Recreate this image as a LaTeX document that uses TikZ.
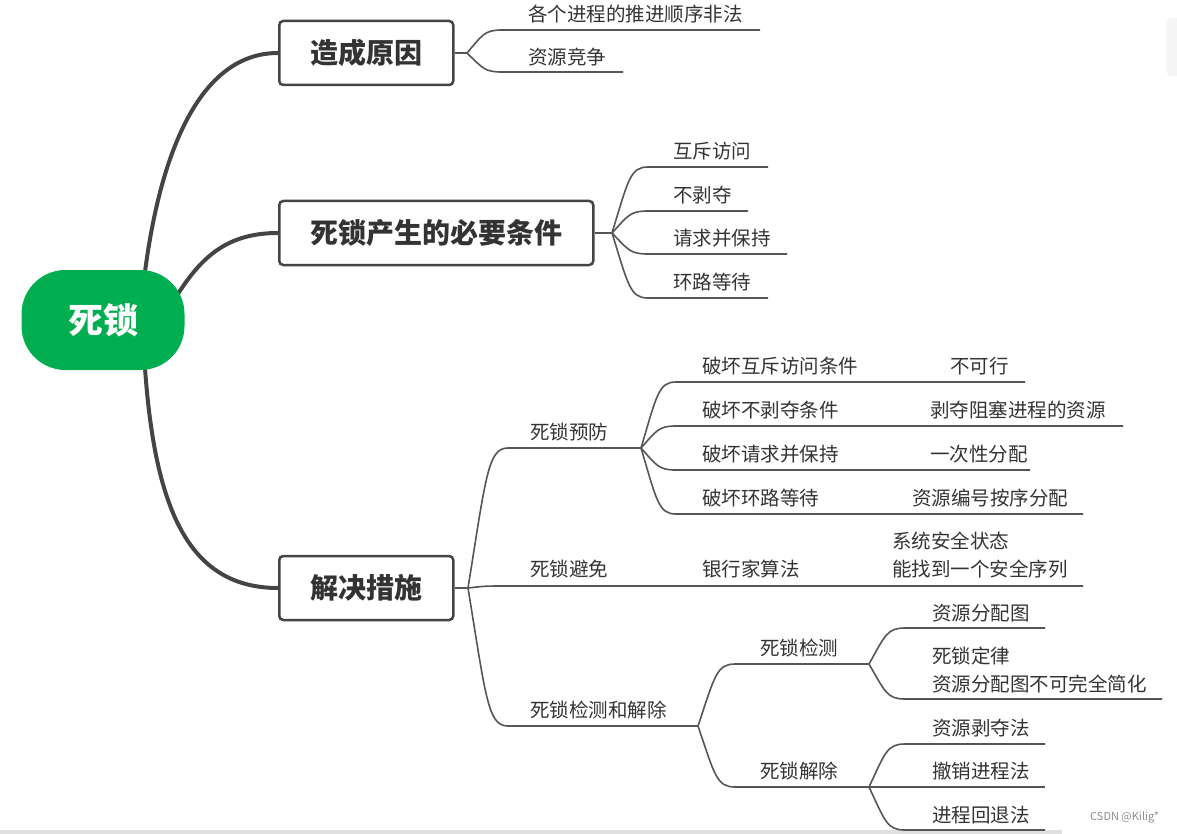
\documentclass[tikz,border=0pt]{standalone}
\usepackage{fontspec}
\setmainfont{Noto Sans CJK SC}
\usetikzlibrary{calc,backgrounds}
\definecolor{mindgreen}{HTML}{00AE4F}
\definecolor{trunkgray}{HTML}{444444}
\definecolor{twiggray}{HTML}{555555}
\definecolor{ink}{HTML}{333333}
\newcommand\fork[3]{\draw[twig] let \p1=(#1), \p2=(#2) in (\p1)
  .. controls ({\x1+0.45*(\x2-\x1)},{\y1+0.8*(\y2-\y1)}) and ({\x1+0.5*(\x2-\x1)},\y2) .. (\p2) -- (#3);}
\begin{document}
\begin{tikzpicture}[x=1pt,y=-1pt,
  root/.style={fill=mindgreen,rounded corners=44pt,minimum width=163pt,minimum height=100pt,
    inner sep=0pt,text=white,font=\bfseries\fontsize{35}{40}\selectfont},
  topic/.style={draw=trunkgray,fill=white,line width=2.5pt,rounded corners=4pt,anchor=west,
    minimum height=64pt,inner xsep=31pt,inner ysep=0pt,text=ink,font=\bfseries\fontsize{28}{32}\selectfont},
  leaf/.style={anchor=west,inner sep=0pt,align=left,text=ink,font=\fontsize{19.5}{27.5}\selectfont},
  trunk/.style={draw=trunkgray,line width=4pt},
  twig/.style={draw=twiggray,line width=1.6pt}]
 \useasboundingbox (0,0) rectangle (1177,834);
 \fill[black!12] (0,830) rectangle (1062,834);
 \fill[black!4,rounded corners=6pt] (1166,18) rectangle (1190,76);
 \node[root] (r) at (103,320) {死锁};
 \node[topic] (b1) at (278,53) {造成原因};
 \node[topic] (b2) at (278,233) {死锁产生的必要条件};
 \node[topic] (b3) at (278,588) {解决措施};
 \begin{scope}[on background layer]
  \draw[trunk] ([shift={(42,2)}]r.north) .. controls +(15,-115) and +(-80,0) .. (b1.west);
  \draw[trunk] ([shift={(-8,-24)}]r.east) .. controls +(25,-40) and +(-50,0) .. (b2.west);
  \draw[trunk] ([shift={(42,-2)}]r.south) .. controls +(10,140) and +(-90,0) .. (b3.west);
 \end{scope}
 % causes
 \coordinate (f1) at (467,53);
 \coordinate (a1) at (502,30); \coordinate (a1e) at (760,30);
 \coordinate (a2) at (502,72); \coordinate (a2e) at (623,72);
 \draw[twig] (b1.east) -- (f1);
 \fork{f1}{a1}{a1e} \fork{f1}{a2}{a2e}
 \node[leaf] (a1t) at (528,14) {各个进程的推进顺序非法};
 \node[leaf] (a2t) at (528,57) {资源竞争};
 % conditions
 \coordinate (f2) at (612,233);
 \coordinate (c1) at (648,167); \coordinate (c1e) at (768,167);
 \coordinate (c2) at (648,211); \coordinate (c2e) at (748,211);
 \coordinate (c3) at (648,254); \coordinate (c3e) at (787,254);
 \coordinate (c4) at (648,298); \coordinate (c4e) at (768,298);
 \draw[twig] (b2.east) -- (f2);
 \fork{f2}{c1}{c1e} \fork{f2}{c2}{c2e} \fork{f2}{c3}{c3e} \fork{f2}{c4}{c4e}
 \node[leaf] (c1t) at (673,151) {互斥访问};
 \node[leaf] (c2t) at (673,195) {不剥夺};
 \node[leaf] (c3t) at (673,238) {请求并保持};
 \node[leaf] (c4t) at (673,282) {环路等待};
 % measures
 \coordinate (f3) at (468,588);
 \coordinate (s1) at (508,448); \coordinate (p1) at (641,448);
 \coordinate (s2) at (500,586); \coordinate (s2e) at (1083,586);
 \coordinate (s3) at (508,726); \coordinate (p3) at (698,726);
 \draw[twig] (b3.east) -- (f3);
 \fork{f3}{s1}{p1} \fork{f3}{s2}{s2e} \fork{f3}{s3}{p3}
 \node[leaf] (s1t) at (530,432) {死锁预防};
 \node[leaf] (s2t) at (530,569) {死锁避免};
 \node[leaf] (s3t) at (530,710) {死锁检测和解除};
 \coordinate (e1) at (676,382); \coordinate (e1e) at (1025,382);
 \coordinate (e2) at (676,426); \coordinate (e2e) at (1123,426);
 \coordinate (e3) at (676,470); \coordinate (e3e) at (1030,470);
 \coordinate (e4) at (676,514); \coordinate (e4e) at (1083,514);
 \fork{p1}{e1}{e1e} \fork{p1}{e2}{e2e} \fork{p1}{e3}{e3e} \fork{p1}{e4}{e4e}
 \node[leaf] (e1t) at (702,366) {破坏互斥访问条件}; \node[leaf] (e1r) at (950,366) {不可行};
 \node[leaf] (e2t) at (702,410) {破坏不剥夺条件}; \node[leaf] (e2r) at (930,410) {剥夺阻塞进程的资源};
 \node[leaf] (e3t) at (702,454) {破坏请求并保持}; \node[leaf] (e3r) at (930,454) {一次性分配};
 \node[leaf] (e4t) at (702,498) {破坏环路等待}; \node[leaf] (e4r) at (912,498) {资源编号按序分配};
 \node[leaf] (bank) at (702,569) {银行家算法};
 \node[leaf] (safe) at (892,555) {系统安全状态\\能找到一个安全序列};
 \coordinate (d1) at (735,664); \coordinate (p4) at (869,664);
 \coordinate (d2) at (735,787); \coordinate (p5) at (869,787);
 \fork{p3}{d1}{p4} \fork{p3}{d2}{p5}
 \node[leaf] (d1t) at (760,648) {死锁检测};
 \node[leaf] (d2t) at (760,771) {死锁解除};
 \coordinate (g1) at (905,628); \coordinate (g1e) at (1045,628);
 \coordinate (g2) at (905,699); \coordinate (g2e) at (1162,699);
 \fork{p4}{g1}{g1e} \fork{p4}{g2}{g2e}
 \node[leaf] (g1t) at (932,613) {资源分配图};
 \node[leaf] (g2t) at (932,670) {死锁定律\\资源分配图不可完全简化};
 \coordinate (h1) at (905,744); \coordinate (h1e) at (1045,744);
 \coordinate (h2e) at (1045,787);
 \coordinate (h3) at (905,830); \coordinate (h3e) at (1045,830);
 \fork{p5}{h1}{h1e} \draw[twig] (p5) -- (h2e); \fork{p5}{h3}{h3e}
 \node[leaf] (h1t) at (932,728) {资源剥夺法};
 \node[leaf] (h2t) at (932,771) {撤销进程法};
 \node[leaf] (h3t) at (932,815) {进程回退法};
 \node[anchor=west,inner sep=0pt,text=black!45,font=\fontsize{11}{13}\selectfont] (wm) at (1090,817) {CSDN @Kilig*};
\end{tikzpicture}
\end{document}
